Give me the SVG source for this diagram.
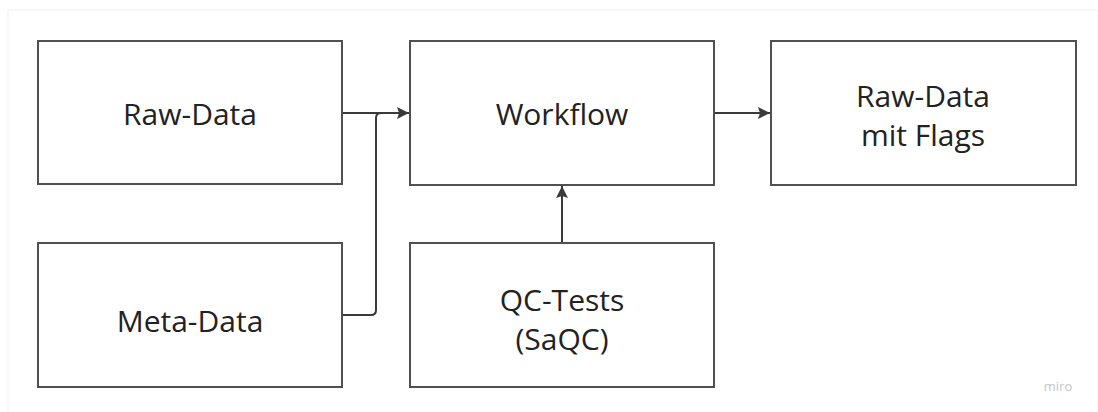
<svg xmlns="http://www.w3.org/2000/svg" width="1098" height="412" viewBox="0 0 1098 412">
<defs>
<style>
.box{fill:#ffffff;stroke:#505050;stroke-width:2}
.lbl{font-family:"Open Sans","Liberation Sans",sans-serif;font-size:30px;fill:#222222;text-anchor:middle;dominant-baseline:central}
.con{fill:none;stroke:#3a3a3a;stroke-width:2}
</style>
<marker id="arr" viewBox="0 0 12 12" refX="12" refY="6" markerWidth="12" markerHeight="12" markerUnits="userSpaceOnUse" orient="auto">
<path d="M0,0 L12,6 L0,12 L2,6 Z" fill="#3a3a3a"/>
</marker>
</defs>
<rect x="0" y="0" width="1098" height="412" fill="#ffffff"/>
<rect x="8" y="10" width="1090" height="410" fill="#ffffff" stroke="#f0f0f0" stroke-width="1"/>
<g id="connectors">
<path class="con" d="M342,113 L409,113" marker-end="url(#arr)"/>
<path class="con" d="M342,315 L371,315 Q376,315 376,310 L376,118 Q376,113 381,113"/>
<path class="con" d="M562,242 L562,186" marker-end="url(#arr)"/>
<path class="con" d="M714,113 L770,113" marker-end="url(#arr)"/>
</g>
<g id="raw-data">
<rect class="box" x="38" y="41" width="304" height="143"/>
<text class="lbl" x="190" y="113">Raw-Data</text>
</g>
<g id="meta-data">
<rect class="box" x="38" y="243" width="304" height="144"/>
<text class="lbl" x="190" y="320">Meta-Data</text>
</g>
<g id="workflow">
<rect class="box" x="410" y="41" width="304" height="144"/>
<text class="lbl" x="562" y="113">Workflow</text>
</g>
<g id="qc-tests">
<rect class="box" x="410" y="243" width="304" height="144"/>
<text class="lbl" x="562" y="299">QC-Tests</text>
<text class="lbl" x="562" y="338">(SaQC)</text>
</g>
<g id="raw-data-flags">
<rect class="box" x="771" y="41" width="305" height="144"/>
<text class="lbl" x="923" y="95">Raw-Data</text>
<text class="lbl" x="923" y="134">mit Flags</text>
</g>
<text x="1058" y="386" font-family="Open Sans, Liberation Sans, sans-serif" font-size="13" fill="#c4c4cc" text-anchor="middle" dominant-baseline="central">miro</text>
</svg>
